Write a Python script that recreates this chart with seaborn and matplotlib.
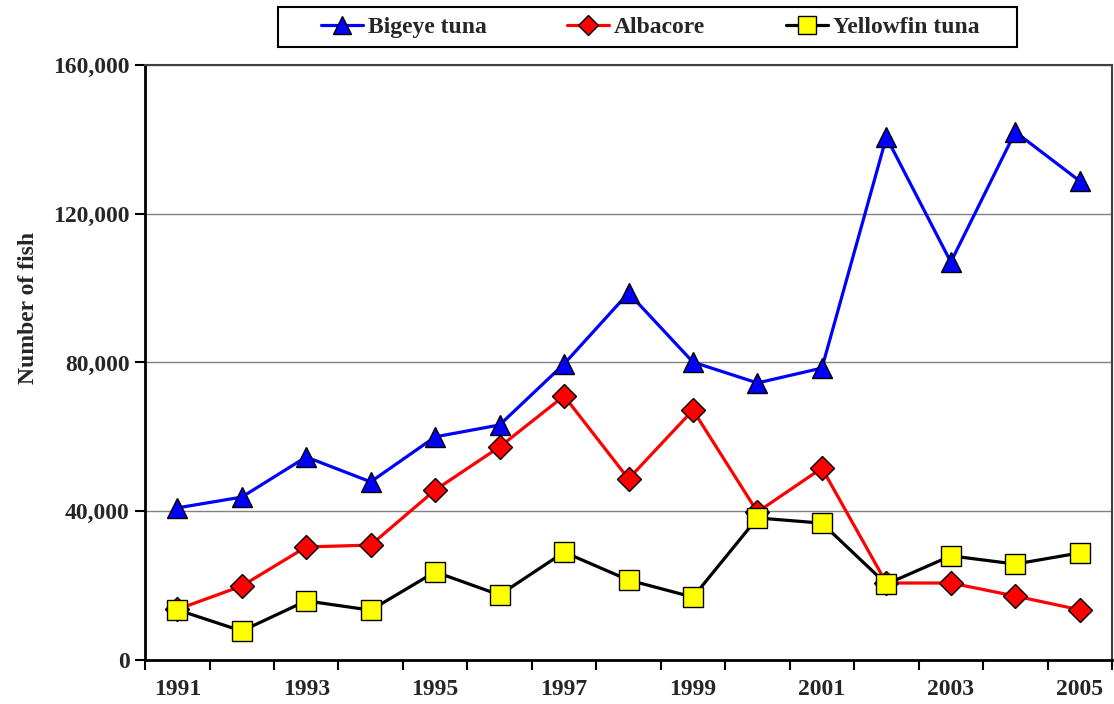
import numpy as np
import pandas as pd
import matplotlib
matplotlib.use('Agg')
import matplotlib.pyplot as plt
import seaborn as sns
from matplotlib.ticker import FuncFormatter
from matplotlib.patches import Rectangle

years = list(range(1991, 2006))
bigeye = [40900, 43800, 54600, 47900, 60000, 63200, 79600, 98700, 80100, 74500, 78500, 140600, 107000, 142000, 128800]
albacore = [13600, 19900, 30400, 30900, 45700, 57300, 71000, 48700, 67200, 39800, 51600, 20700, 20700, 17200, 13500]
yellowfin = [13500, 7800, 15900, 13400, 23700, 17500, 29000, 21500, 16900, 38200, 36800, 20400, 28000, 25800, 28800]
species = ['Bigeye tuna', 'Albacore', 'Yellowfin tuna']

df = pd.DataFrame({
    'pos': list(range(len(years))) * 3,
    'fish': bigeye + albacore + yellowfin,
    'species': [s for s in species for _ in years],
})

sns.set_style('white')
plt.rcParams['font.family'] = ['Liberation Serif', 'DejaVu Serif']
plt.rcParams['font.weight'] = 'bold'

fig = plt.figure(figsize=(11.14, 7.04), dpi=100)
ax = fig.add_axes([0.1302, 0.0625, 0.8680, 0.8452])

palette = {'Bigeye tuna': '#0000FF', 'Albacore': '#FF0000', 'Yellowfin tuna': '#000000'}
markers = {'Bigeye tuna': '^', 'Albacore': 'D', 'Yellowfin tuna': 's'}
sns.lineplot(data=df, x='pos', y='fish', hue='species', style='species', hue_order=species,
             style_order=species, palette=palette, markers=markers, dashes=False,
             linewidth=2.3, markersize=14, markeredgecolor='black', markeredgewidth=1.0,
             legend=False, ax=ax)

# marker fill and size per series
face = {'Bigeye tuna': '#0000FF', 'Albacore': '#FF0000', 'Yellowfin tuna': '#FFFF00'}
sizes = {'Bigeye tuna': 15, 'Albacore': 12, 'Yellowfin tuna': 15}
for line, s in zip(ax.lines, species):
    line.set_markerfacecolor(face[s])
    line.set_markersize(sizes[s])

ax.set_xlim(-0.5, len(years) - 0.5)
ax.set_ylim(0, 160000)
ax.set_yticks([0, 40000, 80000, 120000, 160000])
ax.yaxis.set_major_formatter(FuncFormatter(lambda v, p: f'{int(v):,}'))
ax.grid(axis='y', color='#808080', linewidth=1.0)
ax.set_axisbelow(True)

# ticks between categories, labels on every second year
ax.set_xticks(np.arange(-0.5, len(years), 1))
ax.set_xticklabels([])
ax.set_xticks(range(0, len(years), 2), minor=True)
ax.set_xticklabels([str(y) for y in years[::2]], minor=True)
ax.tick_params(axis='x', which='major', direction='out', length=7, width=1.5, color='black', bottom=True)
ax.tick_params(axis='x', which='minor', length=0, pad=14, labelsize=17)
ax.tick_params(axis='y', direction='out', length=7, width=1.5, color='black', left=True, labelsize=17, pad=4)

for side in ['left', 'bottom']:
    ax.spines[side].set_color('black')
    ax.spines[side].set_linewidth(2)
for side in ['top', 'right']:
    ax.spines[side].set_color('#404040')
    ax.spines[side].set_linewidth(1.5)

ax.set_xlabel('')
ax.set_ylabel('Number of fish', fontsize=17, fontweight='bold')
ax.yaxis.set_label_coords(-0.11, 0.592)

# legend box
W, H = 1114, 704
fig.patches.append(Rectangle((278 / W, 1 - 47 / H), (1017 - 278) / W, 40 / H, transform=fig.transFigure,
                             facecolor='white', edgecolor='black', linewidth=1.5))
leg = fig.legend(handles=ax.lines, labels=species, loc='center', bbox_to_anchor=(650 / W, 1 - 27 / H),
                 ncol=3, fontsize=17, frameon=False, handlelength=1.8, columnspacing=3.4,
                 borderpad=0.2, handletextpad=0.2)
for h in leg.legend_handles:
    h.set_markersize(h.get_markersize() * 0.85)

fig.savefig('out.png', dpi=100)
plt.close(fig)
